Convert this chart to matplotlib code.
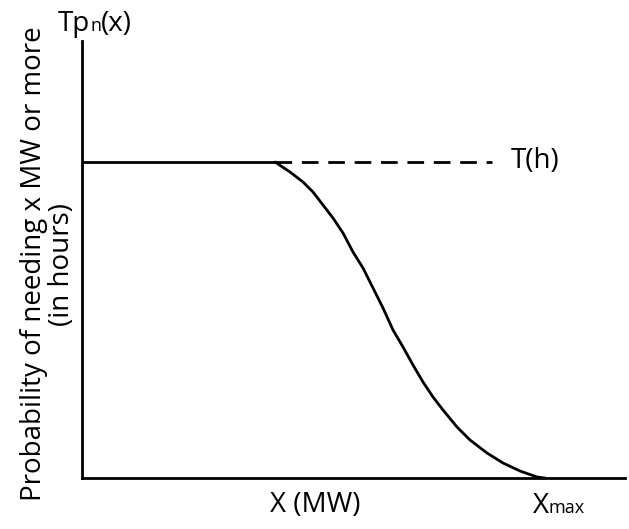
import matplotlib
matplotlib.use("Agg")
import matplotlib.pyplot as plt
from matplotlib.transforms import IdentityTransform

plt.rcParams['font.family'] = ['Open Sans', 'DejaVu Sans']

# schematic data (units relative to axes origin)
flat_x = [0, 193]
flat_y = [316, 316]
dash_x = [193, 410]
dash_y = [316, 316]
curve_x = [193, 208, 221, 231, 241, 251, 261, 271, 281, 291, 301, 311, 321,
           331, 341, 351, 361, 375, 388, 405, 421, 438, 455, 463]
curve_y = [316, 306, 296, 286, 273, 260, 245, 226, 210, 190, 170, 148, 131,
           113, 96, 81, 68, 51, 38, 25, 15, 7, 1, 0]

W, H = 629, 529
fig = plt.figure(figsize=(W / 100, H / 100), dpi=100)
ax = fig.add_axes([82 / W, (H - 478) / H, (625 - 82) / W, (478 - 41) / H])
ax.set_xlim(0, 543)
ax.set_ylim(0, 437)
for s in ['top', 'right']:
    ax.spines[s].set_visible(False)
for s in ['left', 'bottom']:
    ax.spines[s].set_linewidth(2)
    ax.spines[s].set_color('black')
ax.set_xticks([])
ax.set_yticks([])

ax.plot(flat_x, flat_y, color='black', lw=2, solid_capstyle='butt')
ax.plot(curve_x, curve_y, color='black', lw=2, solid_joinstyle='round',
        solid_capstyle='round')
ax.plot(dash_x, dash_y, color='black', lw=2, dashes=(6, 3.5))

fs = 20
fs_small = 13

def px(x, y):
    return (x / W, 1 - y / H)

# y label
fig.text(*px(34, 264), 'Probability of needing x MW or more', rotation=90,
         ha='center', va='center', fontsize=fs)
fig.text(*px(62, 264), '(in hours)', rotation=90,
         ha='center', va='center', fontsize=fs)

fig.text(*px(315, 505), 'X (MW)', ha='center', va='center', fontsize=fs)
fig.text(*px(535, 161), 'T(h)', ha='center', va='center', fontsize=fs)

fig.canvas.draw()
renderer = fig.canvas.get_renderer()

def chain(parts, x, y):
    xd, yd = fig.transFigure.transform(px(x, y))
    for txt, size in parts:
        t = fig.text(xd, yd, txt, fontsize=size, ha='left', va='baseline',
                     transform=IdentityTransform())
        bb = t.get_window_extent(renderer)
        xd = bb.x1

chain([('Tp', fs), ('n', fs_small), ('(x)', fs)], 58, 31)
chain([('X', fs), ('max', fs_small)], 533, 513)

fig.savefig('out.png', dpi=100)
